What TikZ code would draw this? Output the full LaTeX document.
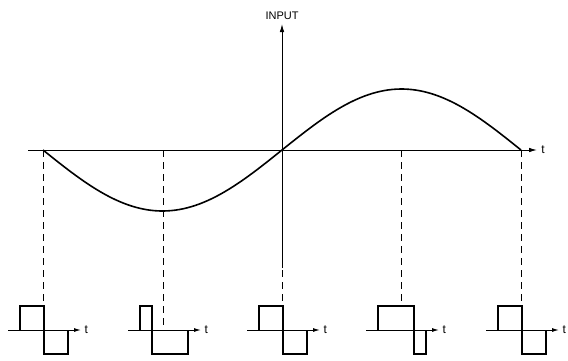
\documentclass[tikz,border=0pt]{standalone}
\usepackage{fontspec}
\setmainfont{Liberation Sans}
\usetikzlibrary{arrows.meta,positioning}

\begin{document}
\begin{tikzpicture}[x=1pt, y=-1pt,
    axis/.style={line width=0.9pt, -{Latex[length=8pt,width=4.5pt]}},
    smallaxis/.style={line width=1pt, -{Latex[length=7pt,width=4pt]}},
    curve/.style={line width=1.6pt},
    drop/.style={line width=0.9pt, dash pattern=on 7pt off 5pt},
    pulse/.style={line width=1.2pt, line join=miter},
    lab/.style={font=\large, inner sep=1pt}
]
    \useasboundingbox (0,0) rectangle (568,360);

    % Axes of the input
    \draw[axis] (28,150) -- (537,150) node[lab, right=3pt] (tmain) {t};
    \draw[axis] (282,268) -- (282,24) node[lab, font=\fontsize{11}{13}\selectfont, above=3pt] (input) {INPUT};

    % Input signal
    \draw[curve, domain=43:521, samples=120, smooth]
        plot (\x, {150+61*sin(0.7531*(\x-43))});

    % Sampling instants and output pulses
    \foreach \xd/\pw/\yd [count=\i] in {43/24/306, 163/12/330, 282/24/306, 401/36/306, 521/24/306} {
        \draw[drop] (\xd,150) -- (\xd,\yd);
        \pgfmathsetmacro{\s}{\xd-23}
        \begin{scope}[xshift=\s pt]
            \draw[smallaxis] (-12,330) -- (61,330) node[lab, right=2pt] (t\i) {t};
            \draw[pulse] (0,330) |- (\pw,306) -- (\pw,354) -| (48,330);
        \end{scope}
    }
\end{tikzpicture}
\end{document}
